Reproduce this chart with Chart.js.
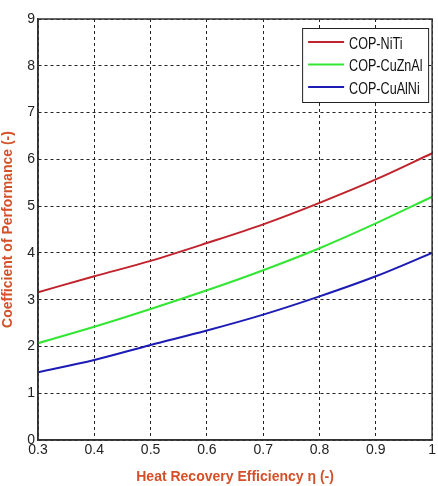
<!DOCTYPE html>
<html><head><meta charset="utf-8">
<script src="https://cdn.jsdelivr.net/npm/chart.js@4.4.1/dist/chart.umd.min.js"></script>
<style>html,body{margin:0;padding:0;background:#fff}#wrap{width:438px;height:486px}</style>
</head><body><div id="wrap"><canvas id="c" width="438" height="486"></canvas></div>
<script>
const efficiency = [0.3, 0.4, 0.5, 0.6, 0.7, 0.8, 0.9, 1.0];
const copNiTi   = [3.16, 3.50, 3.83, 4.21, 4.61, 5.07, 5.57, 6.13];
const copCuZnAl = [2.07, 2.42, 2.80, 3.20, 3.63, 4.10, 4.63, 5.20];
const copCuAlNi = [1.45, 1.71, 2.03, 2.34, 2.68, 3.07, 3.50, 4.00];
const seriesNames = ['COP-NiTi', 'COP-CuZnAl', 'COP-CuAlNi'];
const seriesColors = ['#c0232b', '#33e633', '#1c1cb4'];
const xTicks = [0.3, 0.4, 0.5, 0.6, 0.7, 0.8, 0.9, 1];
const yTicks = [0, 1, 2, 3, 4, 5, 6, 7, 8, 9];
const FONT = "'Liberation Sans Narrow', 'Arial Narrow', 'Liberation Sans', sans-serif";

const toPts = arr => efficiency.map((x, i) => ({x, y: arr[i]}));
const data = {
  datasets: [copNiTi, copCuZnAl, copCuAlNi].map((arr, i) => ({
    label: seriesNames[i], data: toPts(arr), borderColor: seriesColors[i],
    backgroundColor: seriesColors[i], borderWidth: 2, pointRadius: 0,
    cubicInterpolationMode: 'monotone', fill: false
  }))
};

const boxLegend = {
  id: 'boxLegend',
  afterDatasetsDraw(chart) {
    const {ctx, chartArea: a} = chart;
    ctx.save();
    ctx.strokeStyle = '#333'; ctx.lineWidth = 1.5; ctx.setLineDash([]);
    ctx.strokeRect(a.left, a.top, a.right - a.left, a.bottom - a.top);
    const w = 126, h = 74, x0 = a.right - w - 4, y0 = a.top + 9;
    ctx.fillStyle = '#fff'; ctx.fillRect(x0, y0, w, h);
    ctx.strokeStyle = '#222'; ctx.lineWidth = 1; ctx.strokeRect(x0 + 0.5, y0 + 0.5, w, h);
    ctx.textBaseline = 'middle'; ctx.fillStyle = '#111';
    chart.data.datasets.forEach((ds, i) => {
      const yy = y0 + 14 + i * 22.5;
      ctx.strokeStyle = ds.borderColor; ctx.lineWidth = 2;
      ctx.beginPath(); ctx.moveTo(x0 + 6, yy); ctx.lineTo(x0 + 42, yy); ctx.stroke();
      ctx.save();
      ctx.translate(x0 + 47, yy + 2);
      ctx.scale(0.74, 1);
      ctx.font = '17px ' + FONT;
      ctx.fillText(ds.label, 0, 0);
      ctx.restore();
    });
    ctx.restore();
  }
};

new Chart(document.getElementById('c'), {
  type: 'line', data,
  options: {
    responsive: false, animation: false, devicePixelRatio: 1,
    layout: {padding: {top: 19, right: 2, left: 0, bottom: 0}},
    plugins: {legend: {display: false}, tooltip: {enabled: false}},
    scales: {
      x: {
        type: 'linear', min: 0.3, max: 1,
        afterBuildTicks: s => { s.ticks = xTicks.map(v => ({value: v})); },
        afterFit: s => { s.height = 46; },
        ticks: {color: '#222', font: {family: FONT, size: 14}, padding: 2,
          callback: v => String(v)},
        grid: {color: '#222', lineWidth: 1, tickLength: 0, drawTicks: false},
        border: {display: true, color: '#333', width: 1.5, dash: [3, 3]},
        title: {display: true, text: 'Heat Recovery Efficiency η (-)', color: '#d4502a',
          font: {family: FONT, size: 14, weight: 'bold'}, padding: {top: 2, bottom: 0}}
      },
      y: {
        min: 0, max: 9,
        afterBuildTicks: s => { s.ticks = yTicks.map(v => ({value: v})); },
        afterFit: s => { s.width = 38; },
        ticks: {color: '#222', font: {family: FONT, size: 14}, padding: 3},
        grid: {color: '#222', lineWidth: 1, tickLength: 0, drawTicks: false},
        border: {display: true, color: '#333', width: 1.5, dash: [3, 3]},
        title: {display: true, text: 'Coefficient of Performance (-)', color: '#d4502a',
          font: {family: FONT, size: 14, weight: 'bold'}, padding: {top: 0, bottom: 2}}
      }
    }
  },
  plugins: [boxLegend]
});
</script></body></html>
